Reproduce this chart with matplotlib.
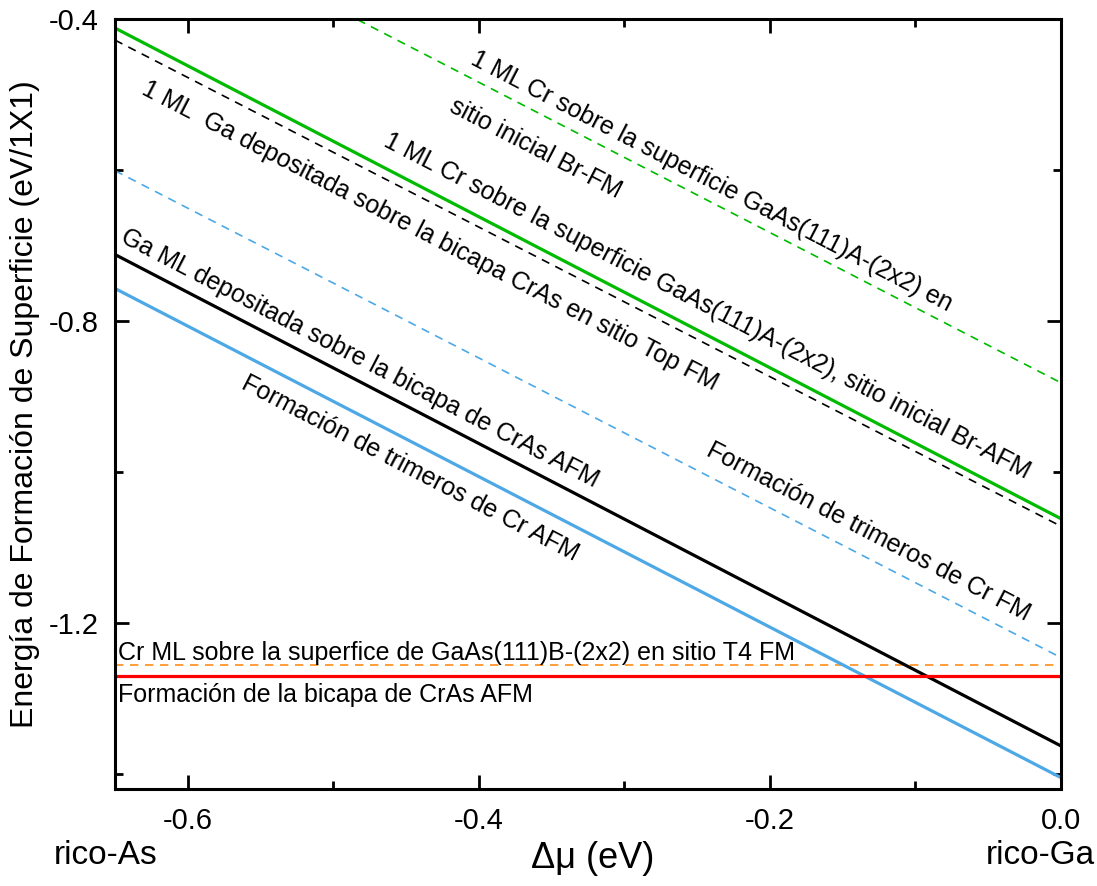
import numpy as np
import matplotlib
matplotlib.use("Agg")
import matplotlib.pyplot as plt
from matplotlib.ticker import MultipleLocator

plt.rcParams['font.family'] = ['Liberation Sans', 'DejaVu Sans']

# chemical potential range (eV)
dmu = [-0.65, 0.0]

# surface formation energies at the two ends of the range (eV/1x1)
e_cr_ml_br_fm = [-0.235, -0.882]       # green dashed
e_cr_ml_br_afm = [-0.412, -1.062]      # green solid
e_ga_ml_top_fm = [-0.428, -1.072]      # black dashed
e_trimer_fm = [-0.601, -1.246]         # blue dashed
e_ga_ml_afm = [-0.712, -1.363]         # black solid
e_trimer_afm = [-0.757, -1.405]        # blue solid
e_cr_ml_t4_fm = [-1.256, -1.256]       # orange dashed
e_bilayer_afm = [-1.271, -1.271]       # red solid

green = '#00bb00'
blue = '#4da8e6'
orange = '#ff8c1a'
red = '#ff0000'

fig = plt.figure(figsize=(10.97, 8.86), dpi=100)
ax = fig.add_axes([0.1048, 0.1095, 0.8624, 0.8691])

ax.plot(dmu, e_cr_ml_br_fm, color=green, lw=1.2, ls=(0, (5, 4)))
ax.plot(dmu, e_ga_ml_top_fm, color='black', lw=1.2, ls=(0, (5, 4)))
ax.plot(dmu, e_trimer_fm, color=blue, lw=1.2, ls=(0, (5, 4)))
ax.plot(dmu, e_cr_ml_t4_fm, color=orange, lw=1.2, ls=(0, (5, 4)))
ax.plot(dmu, e_cr_ml_br_afm, color=green, lw=2.3)
ax.plot(dmu, e_ga_ml_afm, color='black', lw=2.3)
ax.plot(dmu, e_trimer_afm, color=blue, lw=2.3)
ax.plot(dmu, e_bilayer_afm, color=red, lw=2.3)

ax.set_xlim(-0.65, 0.0)
ax.set_ylim(-1.42, -0.4)

ax.xaxis.set_minor_locator(MultipleLocator(0.1))
ax.yaxis.set_minor_locator(MultipleLocator(0.2))
ax.set_xticks([-0.6, -0.4, -0.2, 0.0])
ax.set_xticklabels(['-0.6', '-0.4', '-0.2', '0.0'])
ax.set_yticks([-0.4, -0.8, -1.2])
ax.set_yticklabels(['-0.4', '-0.8', '-1.2'])
ax.tick_params(which='both', direction='in', top=True, right=True, width=2, labelsize=21)
ax.tick_params(which='major', length=10)
ax.tick_params(axis='x', which='major', pad=13)
ax.tick_params(axis='y', which='major', pad=12)
ax.tick_params(which='minor', length=6)
for s in ax.spines.values():
    s.set_linewidth(2.2)

ax.set_ylabel('Energía de Formación de Superficie (eV/1X1)', fontsize=23, labelpad=6)

# angle of the slope -1 lines on screen
fig.canvas.draw()
p0 = ax.transData.transform((-0.6, -0.6))
p1 = ax.transData.transform((-0.1, -1.1))
ang = np.degrees(np.arctan2(p1[1] - p0[1], p1[0] - p0[0]))

labels = [
    (-0.240, -0.615, '1 ML Cr sobre la superficie GaAs(111)A-(2x2) en'),
    (-0.361, -0.572, 'sitio inicial Br-FM'),
    (-0.4335, -0.687, '1 ML  Ga depositada sobre la bicapa CrAs en sitio Top FM'),
    (-0.243, -0.780, '1 ML Cr sobre la superficie GaAs(111)A-(2x2), sitio inicial Br-AFM'),
    (-0.482, -0.850, 'Ga ML depositada sobre la bicapa de CrAs AFM'),
    (-0.447, -0.995, 'Formación de trimeros de Cr AFM'),
    (-0.1325, -1.079, 'Formación de trimeros de Cr FM'),
]
for x, y, t in labels:
    ax.text(x, y, t, rotation=ang, rotation_mode='anchor', ha='center', va='center', fontsize=18)

ax.text(-0.648, -1.249, 'Cr ML sobre la superfice de GaAs(111)B-(2x2) en sitio T4 FM',
        ha='left', va='baseline', fontsize=18)
ax.text(-0.648, -1.305, 'Formación de la bicapa de CrAs AFM',
        ha='left', va='baseline', fontsize=18)

fig.text(593 / 1097, 1 - 858 / 886, 'Δμ (eV)', ha='center', va='center', fontsize=26)
fig.text(106 / 1097, 1 - 855 / 886, 'rico-As', ha='center', va='center', fontsize=24)
fig.text(1040 / 1097, 1 - 855 / 886, 'rico-Ga', ha='center', va='center', fontsize=24)

fig.savefig('out.png', dpi=100)
